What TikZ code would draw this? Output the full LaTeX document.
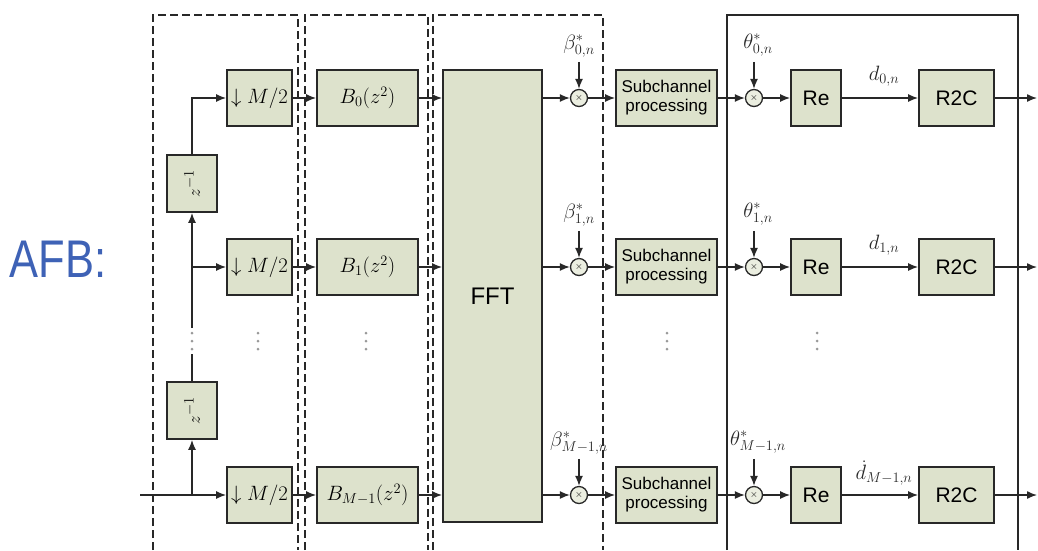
\documentclass[tikz,border=0pt]{standalone}
\usepackage{fontspec}
\setmainfont{Liberation Sans}
\usepackage{graphicx}
\usetikzlibrary{arrows.meta,calc}
\definecolor{blkfill}{RGB}{221,226,204}
\definecolor{afbblue}{RGB}{62,98,182}
\definecolor{ink}{RGB}{40,40,40}
\begin{document}
\begin{tikzpicture}[x=1pt,y=-1pt,
 blk/.style={draw=ink, line width=1.8pt, fill=blkfill, minimum height=56pt, inner sep=0pt, align=center},
 mult/.style={circle, draw=ink, line width=1.3pt, fill=blkfill!60, minimum size=17pt, inner sep=0pt, font=\fontsize{10}{10}\selectfont},
 conn/.style={draw=ink, line width=1.4pt, -{Latex[length=10pt,width=8pt]}},
 wire/.style={draw=ink, line width=1.4pt},
 dbox/.style={draw=ink, line width=2pt, dash pattern=on 8pt off 4pt},
 sbox/.style={draw=ink, line width=1.6pt},
 lab/.style={font=\fontsize{20}{20}\selectfont, inner sep=0pt, text=ink},
]
\useasboundingbox (0,0) rectangle (1038,550);

% enclosing frames
\draw[dbox] (153,550) -- (153,15) -- (298,15) -- (298,550);
\draw[dbox] (305,550) -- (305,15) -- (428,15) -- (428,550);
\draw[dbox] (433,550) -- (433,15) -- (603,15) -- (603,550);
\draw[sbox] (727,550) -- (727,15) -- (1018,15) -- (1018,550);

% AFB label
\node[text=afbblue, font=\fontsize{53}{53}\selectfont, inner sep=0pt] (afb) at (58,259) {\scalebox{0.82}[1]{AFB:}};

% FFT
\node[blk, minimum width=99pt, minimum height=452pt, font=\fontsize{24}{24}\selectfont] (fft) at (492.5,296) {FFT};

% rows
\foreach \r/\y/\k/\dd in {0/98/0/d, 1/267/1/d, 2/495/M-1/\dot{d}} {
  \node[blk, minimum width=65pt, font=\fontsize{21}{21}\selectfont] (dn\r) at (259.5,\y) {$\downarrow M/2$};
  \node[blk, minimum width=101pt, font=\fontsize{20}{20}\selectfont] (b\r) at (367.5,\y) {$B_{\k}(z^2)$};
  \node[mult] (m\r) at (579,\y) {$\times$};
  \node[lab] (bl\r) at (579,\y-52) {$\beta^{*}_{\k,n}$};
  \node[blk, minimum width=101pt, font=\fontsize{17}{19}\selectfont] (sp\r) at (666.5,\y) {Subchannel\\processing};
  \node[mult] (t\r) at (754,\y) {$\times$};
  \node[lab] (tl\r) at (758,\y-53) {$\theta^{*}_{\k,n}$};
  \node[blk, minimum width=50pt, font=\fontsize{21}{21}\selectfont] (re\r) at (816,\y) {Re};
  \node[blk, minimum width=75pt, font=\fontsize{21}{21}\selectfont] (rc\r) at (956.5,\y) {R2C};
  \node[lab] (dl\r) at (884,\y-22) {$\dd_{\k,n}$};
  \coordinate (o\r) at (1037,\y);
  \draw[conn] (dn\r) -- (b\r);
  \draw[conn] (b\r.east) -- (b\r.east -| fft.west);
  \draw[conn] (m\r.west -| fft.east) -- (m\r);
  \draw[conn] ($(m\r.north)+(0,-27)$) -- (m\r.north);
  \draw[conn] (m\r) -- (sp\r);
  \draw[conn] (sp\r) -- (t\r);
  \draw[conn] ($(t\r.north)+(0,-27)$) -- (t\r.north);
  \draw[conn] (t\r) -- (re\r);
  \draw[conn] (re\r) -- (rc\r);
  \draw[conn] (rc\r) -- (o\r);
}

% delay chain
\node[blk, minimum width=50pt, minimum height=57pt] (zt) at (192,183.5) {\rotatebox{90}{\fontsize{19}{19}\selectfont$z^{-1}$}};
\node[blk, minimum width=50pt, minimum height=57pt] (zb) at (192,410.5) {\rotatebox{90}{\fontsize{19}{19}\selectfont$z^{-1}$}};
\coordinate (in) at (140,495);
\coordinate (j2) at (192,495);
\coordinate (j1) at (192,267);
\coordinate (ga) at (192,328);
\coordinate (gb) at (192,354);
\draw[conn] (in) -- (dn2);
\draw[conn] (j2) -- (zb);
\draw[wire] (zb) -- (gb);
\draw[wire] (j1) -- (ga);
\draw[conn] (j1) -- (zt);
\draw[conn] (j1) -- (dn1);
\draw[conn] (zt.north) |- (dn0.west);

% vertical ellipses
\foreach \x in {192,258,366,667,817}
  \foreach \dy in {0,8,16}
    \fill[gray!80] (\x,333+\dy) circle (1.5pt);
\end{tikzpicture}
\end{document}
